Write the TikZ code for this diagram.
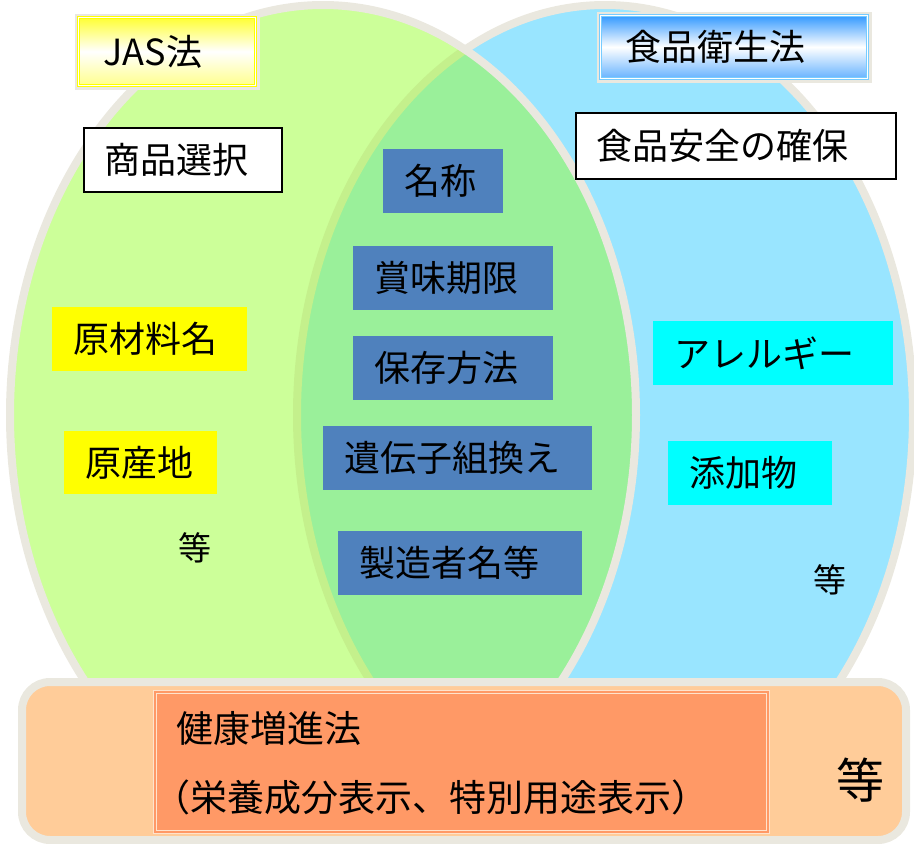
\documentclass[tikz,border=0pt]{standalone}
\usepackage{fontspec}
\setmainfont{Noto Sans CJK JP}
\usetikzlibrary{positioning}

\definecolor{jasgreen}{HTML}{CCFF99}
\definecolor{bothgreen}{HTML}{9AF09A}
\definecolor{foodblue}{HTML}{99E5FF}
\definecolor{rimgray}{HTML}{EAE8DF}
\definecolor{rimgreen}{HTML}{C4F08C}
\definecolor{tagblue}{HTML}{4F81BD}
\definecolor{tagcyan}{HTML}{00FFFF}
\definecolor{tagyellow}{HTML}{FFFF00}
\definecolor{healthpeach}{HTML}{FFCC99}
\definecolor{healthorange}{HTML}{FF9966}
\definecolor{healthpale}{HTML}{FFE3CC}
\definecolor{headblue}{HTML}{3399FF}
\definecolor{headline}{HTML}{77CCFF}

\newcommand\boxfont{\fontsize{36pt}{42pt}\selectfont}

\begin{document}
\begin{tikzpicture}[x=1pt,y=-1pt,
   rim/.style={draw=rimgray,line width=8pt},
   tag/.style={anchor=north west,minimum height=64pt,inner xsep=21pt,inner ysep=0pt,font=\boxfont,align=left},
   whitetag/.style={tag,fill=white,draw=black,line width=1.5pt},
   bluetag/.style={tag,fill=tagblue},
   yellowtag/.style={tag,fill=tagyellow},
   cyantag/.style={tag,fill=tagcyan},
   headtag/.style={tag,inner xsep=25pt,preaction={draw=rimgray,line width=8pt},line width=1pt,double distance=1.5pt},
   etc/.style={inner sep=0pt,font=\fontsize{33pt}{38pt}\selectfont}
  ]
\useasboundingbox (0,0) rectangle (914,844);

% food sanitation circle
\fill[foodblue] (605,415) ellipse [x radius=308,y radius=410];
\draw[rim] (605,415) ellipse [x radius=308,y radius=410];
% JAS circle
\fill[jasgreen] (323,415) ellipse [x radius=313,y radius=410];
\begin{scope}
 \clip (605,415) ellipse [x radius=308,y radius=410];
 \fill[bothgreen] (323,415) ellipse [x radius=313,y radius=410];
\end{scope}
\begin{scope}
 \clip (323,415) ellipse [x radius=313,y radius=410];
 \draw[rim,draw=rimgreen] (605,415) ellipse [x radius=308,y radius=410];
\end{scope}
\draw[rim] (323,415) ellipse [x radius=313,y radius=410];

% headings
\node[headtag,text width=127pt,minimum height=68pt,draw=tagyellow,double=white,
      top color=tagyellow!80,bottom color=tagyellow!45,middle color=white] (jas) at (78,17) {JAS法};
\node[headtag,text width=217pt,minimum height=63pt,draw=headline,double=white,
      top color=headblue,bottom color=headblue!75,middle color=white] (food) at (600,15) {食品衛生法};

\node[whitetag,text width=156pt] (choice) at (83,127) {商品選択};
\node[whitetag,text width=278pt,minimum height=66pt] (safety) at (575,112) {食品安全の確保};

% common items
\node[bluetag,text width=78pt] (name) at (383,149) {名称};
\node[bluetag,text width=158pt] (bestby) at (353,246) {賞味期限};
\node[bluetag,text width=158pt] (storage) at (353,336) {保存方法};
\node[bluetag,text width=227pt] (gmo) at (323,426) {遺伝子組換え};
\node[bluetag,text width=202pt] (maker) at (338,531) {製造者名等};

% JAS only
\node[yellowtag,text width=153pt] (material) at (52,307) {原材料名};
\node[yellowtag,text width=111pt,minimum height=63pt] (origin) at (64,431) {原産地};
\node[etc] (jasetc) at (195,548) {等};

% food sanitation only
\node[cyantag,text width=198pt] (allergy) at (653,321) {アレルギー};
\node[cyantag,text width=122pt] (additive) at (668,441) {添加物};
\node[etc] (foodetc) at (830,580) {等};

% health promotion
\draw[rim,fill=healthpeach,rounded corners=28pt] (22,682) rectangle (906,840);
\draw[fill=healthorange,draw=healthpale,double=healthorange,line width=1.5pt,double distance=1.5pt]
   (155,692) rectangle (768,832);
\node[anchor=west,inner sep=0pt,font=\fontsize{37pt}{42pt}\selectfont] (health) at (176,728) {健康増進法};
\node[anchor=west,inner sep=0pt,font=\fontsize{37pt}{42pt}\selectfont] (healthsub) at (153,797) {（栄養成分表示、特別用途表示）};
\node[inner sep=0pt,font=\fontsize{48pt}{56pt}\selectfont] (healthetc) at (860,780) {等};

\end{tikzpicture}
\end{document}
